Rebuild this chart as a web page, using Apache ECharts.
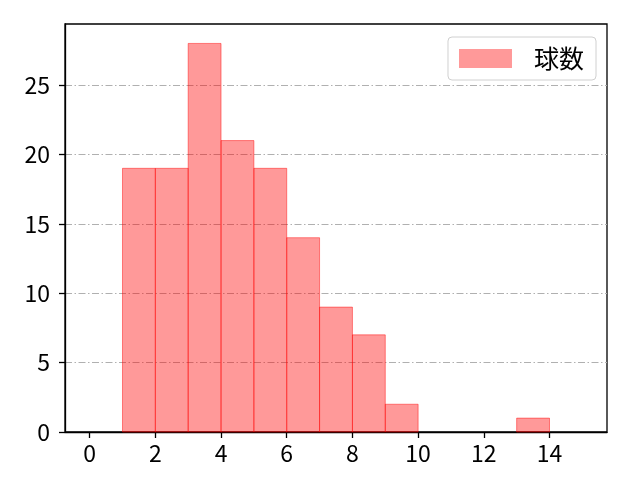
<!DOCTYPE html>
<html>
<head>
<meta charset="utf-8">
<script src="https://cdn.jsdelivr.net/npm/echarts@6/dist/echarts.min.js"></script>
<style>html,body{margin:0;padding:0;background:#fff}#c{width:640px;height:480px}</style>
</head>
<body>
<div id="c"></div>
<script>
const binEdges = [0,1,2,3,4,5,6,7,8,9,10,11,12,13,14,15];
const counts = [0,19,19,28,21,19,14,9,7,2,0,0,0,1,0];
const xTicks = [0,2,4,6,8,10,12,14];
const yTicks = [0,5,10,15,20,25];
const seriesName = '球数';

const bars = counts.map((c, i) => [binEdges[i], binEdges[i+1], c]);
const FONT = '"Noto Sans CJK JP", "Noto Sans", sans-serif';

const chart = echarts.init(document.getElementById('c'), null, {renderer: 'canvas'});
chart.setOption({
  animation: false,
  backgroundColor: '#fff',
  grid: {left: 65, right: 33, top: 24, bottom: 48, show: true, borderColor: '#000', borderWidth: 1.3, backgroundColor: 'transparent'},
  legend: {
    right: 44, top: 37,
    data: [seriesName],
    itemWidth: 53, itemHeight: 19,
    padding: [9, 12, 9, 11],
    borderColor: '#d0d0d0', borderWidth: 1, borderRadius: 4,
    backgroundColor: '#fff',
    textStyle: {fontFamily: FONT, fontSize: 25, color: '#000', padding: [0, 0, 0, 17]},
    icon: 'rect'
  },
  xAxis: {
    type: 'value', min: -0.75, max: 15.75,
    axisLine: {show: true, onZero: false, lineStyle: {color: '#000', width: 1.3}},
    axisTick: {show: true, inside: false, length: 6, lineStyle: {color: '#000', width: 1.3}, customValues: xTicks},
    axisLabel: {fontFamily: FONT, fontSize: 23, color: '#000', margin: 10, customValues: xTicks},
    splitLine: {show: false}
  },
  yAxis: {
    type: 'value', min: 0, max: 29.4,
    axisLine: {show: true, onZero: false, lineStyle: {color: '#000', width: 1.3}},
    axisTick: {show: true, inside: false, length: 6, lineStyle: {color: '#000', width: 1.3}, customValues: yTicks},
    axisLabel: {fontFamily: FONT, fontSize: 23, color: '#000', margin: 15, customValues: yTicks},
    splitLine: {show: true, lineStyle: {color: '#b0b0b0', width: 1, type: [7, 2.5, 1.5, 2.5]}}
  },
  series: [{
    name: seriesName,
    type: 'custom',
    data: bars,
    itemStyle: {color: 'rgba(255,0,0,0.4)'},
    renderItem: function (params, api) {
      const x0 = api.value(0), x1 = api.value(1), y = api.value(2);
      if (y <= 0) return null;
      const p0 = api.coord([x0, y]);
      const p1 = api.coord([x1, 0]);
      return {
        type: 'rect',
        shape: {x: p0[0], y: p0[1], width: p1[0] - p0[0], height: p1[1] - p0[1]},
        style: {fill: 'rgba(255,0,0,0.4)', stroke: 'rgba(255,0,0,0.45)', lineWidth: 1}
      };
    }
  }]
});
</script>
</body>
</html>
